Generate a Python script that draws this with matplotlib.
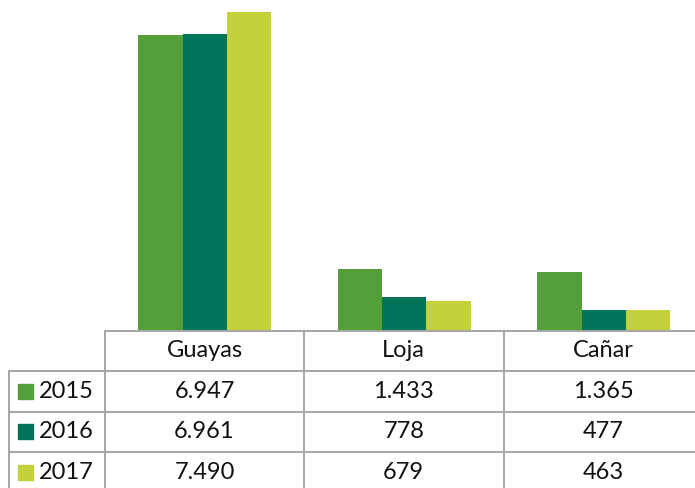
import numpy as np
import matplotlib.pyplot as plt

# data
categories = ['Guayas', 'Loja', 'Cañar']
years = ['2015', '2016', '2017']
values_2015 = [6947, 1433, 1365]
values_2016 = [6961, 778, 477]
values_2017 = [7490, 679, 463]
labels_2015 = ['6.947', '1.433', '1.365']
labels_2016 = ['6.961', '778', '477']
labels_2017 = ['7.490', '679', '463']

colors = ['#559f3a', '#00735a', '#c3d13a']
grid_color = '#a6a6a6'
W, H = 695, 488

plt.rcParams['font.family'] = ['Lato', 'DejaVu Sans']

fig = plt.figure(figsize=(W / 100, H / 100), dpi=100)

# bar area: pixels x 105..703.5 (runs past the right edge), y 0..330
ax = fig.add_axes([105 / W, (H - 330) / H, 598.5 / W, 330 / H])
x = np.arange(len(categories))
bw = 0.222
series = [values_2015, values_2016, values_2017]
for i, vals in enumerate(series):
    ax.bar(x + (i - 1) * bw, vals, width=bw, color=colors[i])
ax.set_xlim(-0.5, 2.5)
ax.set_ylim(0, 7490 * 330 / 318)
ax.axis('off')

# data table drawn in pixel coords on an overlay axes
tab = fig.add_axes([0, 0, 1, 1])
tab.set_xlim(0, W)
tab.set_ylim(H, 0)
tab.axis('off')

col_edges = [105, 304, 503.5, 703]
row_edges = [330.5, 371, 411.5, 452, 492.5]
lw = 1.4

tab.plot([105, 695], [row_edges[0]] * 2, color=grid_color, lw=lw)
for y in row_edges[1:4]:
    tab.plot([9, 695], [y, y], color=grid_color, lw=lw)
for xe in col_edges[:3]:
    tab.plot([xe, xe], [row_edges[0], H], color=grid_color, lw=lw)
tab.plot([9, 9], [row_edges[1], H], color=grid_color, lw=lw)

fs = 17
txt = '#111111'
for j, cat in enumerate(categories):
    cx = (col_edges[j] + col_edges[j + 1]) / 2
    tab.text(cx, (row_edges[0] + row_edges[1]) / 2, cat, ha='center', va='center',
             fontsize=fs, color=txt)

row_labels = [labels_2015, labels_2016, labels_2017]
for r, (yr, labs) in enumerate(zip(years, row_labels)):
    cy = (row_edges[r + 1] + row_edges[r + 2]) / 2
    tab.add_patch(plt.Rectangle((17.7, cy - 7.5), 15, 15, color=colors[r]))
    tab.text(39, cy, yr, ha='left', va='center', fontsize=fs, color=txt)
    for j, lab in enumerate(labs):
        cx = (col_edges[j] + col_edges[j + 1]) / 2
        tab.text(cx, cy, lab, ha='center', va='center', fontsize=fs, color=txt)

fig.savefig('out.png', dpi=100)
